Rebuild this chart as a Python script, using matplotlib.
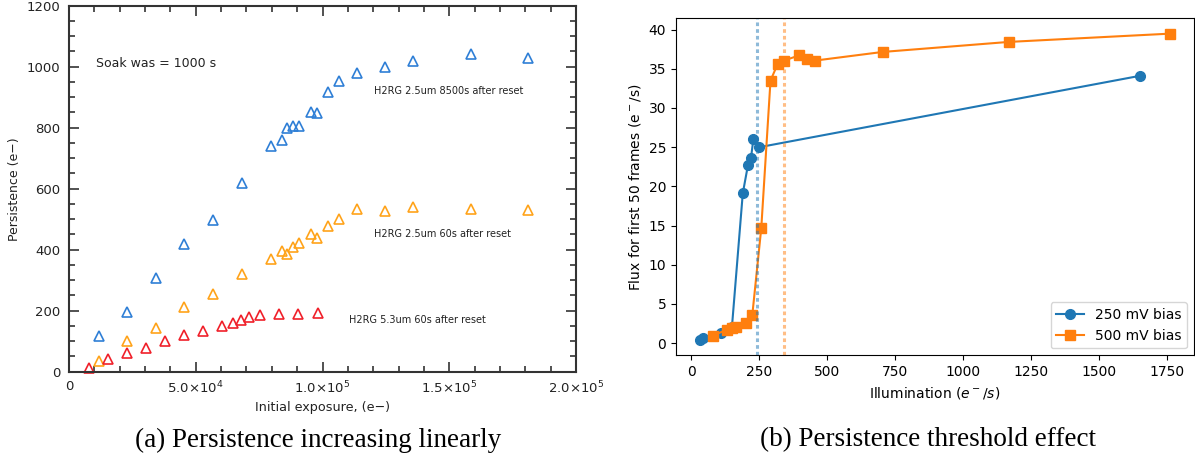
import matplotlib
matplotlib.use("Agg")
import matplotlib.pyplot as plt
from matplotlib.ticker import MultipleLocator, FixedLocator

# ---------------- (a) persistence vs initial exposure ----------------
exposure = [11700, 22900, 34200, 45500, 56900, 68200, 79600, 84000, 86100, 88500,
            90800, 95300, 97700, 102300, 106600, 113500, 124800, 135800, 158500, 181100]
persist_8500s = [118, 197, 306, 418, 497, 619, 740, 760, 799, 807,
                 807, 851, 847, 918, 952, 979, 1000, 1020, 1040, 1028]
persist_60s = [36, 102, 142, 211, 255, 319, 371, 397, 386, 408,
               423, 450, 437, 477, 502, 532, 528, 539, 532, 531]

exposure_53 = [7800, 15300, 22800, 30300, 37800, 45300, 52800, 60300, 64800,
               67700, 70900, 75400, 82800, 90500, 98100]
persist_53 = [11, 42, 60, 79, 102, 120, 134, 149, 161, 171, 178, 185, 190, 188, 191]

xticks_a = [0, 5e4, 1e5, 1.5e5, 2e5]
xtick_labels_a = ["0", r"5.0$\times$10$^4$", r"1.0$\times$10$^5$",
                  r"1.5$\times$10$^5$", r"2.0$\times$10$^5$"]
yticks_a = [0, 200, 400, 600, 800, 1000, 1200]

# ---------------- (b) persistence threshold effect ----------------
illum_250 = [31, 45, 110, 150, 190, 209, 220, 229, 251, 1650]
flux_250 = [0.40, 0.62, 1.3, 2.0, 19.1, 22.7, 23.6, 26.0, 25.0, 34.1]

illum_500 = [79, 132, 150, 166, 201, 225, 258, 292, 319, 341, 397, 425, 456,
             704, 1168, 1763]
flux_500 = [0.97, 1.7, 1.9, 2.04, 2.63, 3.57, 14.67, 33.5, 35.67, 36.05,
            36.7, 36.2, 36.05, 37.15, 38.43, 39.49]

threshold_250 = 243
threshold_500 = 343

fig = plt.figure(figsize=(11.95, 4.65), dpi=100)

# ---- left panel ----
axa = fig.add_axes([69 / 1195, 1 - 371.7 / 465, (576 - 69) / 1195, (371.7 - 5.7) / 465])
c_blue = "#2f7fd6"
c_orange = "#ffa31a"
c_red = "#f0202a"
tri = dict(marker="^", linestyle="none", markersize=7, markerfacecolor="none",
           markeredgewidth=1.2, clip_on=False)
axa.plot(exposure, persist_8500s, markeredgecolor=c_blue, **tri)
axa.plot(exposure, persist_60s, markeredgecolor=c_orange, **tri)
axa.plot(exposure_53, persist_53, markeredgecolor=c_red, **tri)

axa.set_xlim(0, 2e5)
axa.set_ylim(0, 1200)
axa.xaxis.set_major_locator(FixedLocator(xticks_a))
axa.set_xticklabels(xtick_labels_a)
axa.xaxis.set_minor_locator(MultipleLocator(1e4))
axa.set_yticks(yticks_a)
axa.yaxis.set_minor_locator(MultipleLocator(50))
axa.tick_params(which="both", direction="in", top=True, right=True,
                color="#333333", width=1.2, labelsize=9.5, labelcolor="#222222", pad=6)
axa.tick_params(which="major", length=7)
axa.tick_params(which="minor", length=4)
for s in axa.spines.values():
    s.set_color("#333333")
    s.set_linewidth(1.5)

ann = dict(fontsize=7, color="#222222", va="center")
axa.text(10650, 1012, "Soak was = 1000 s", fontsize=9, color="#222222", va="center")
axa.text(120300, 921, "H2RG 2.5um 8500s after reset", **ann)
axa.text(120400, 450, "H2RG 2.5um 60s after reset", **ann)
axa.text(110500, 170, "H2RG 5.3um 60s after reset", **ann)
axa.set_xlabel("Initial exposure, (e\u2212)", fontsize=9.2, color="#222222", labelpad=3)
axa.set_ylabel("Persistence (e\u2212)", fontsize=9, color="#222222", labelpad=4)

# ---- right panel ----
axb = fig.add_axes([676 / 1195, 1 - 355.3 / 465, (1194 - 676) / 1195, (355.3 - 18.3) / 465])
axb.plot(illum_250, flux_250, "-o", color="tab:blue", markersize=7, label="250 mV bias")
axb.plot(illum_500, flux_500, "-s", color="tab:orange", markersize=7, label="500 mV bias")
axb.axvline(threshold_250, color="tab:blue", alpha=0.5, lw=2.2, linestyle=(0, (1.2, 1.0)))
axb.axvline(threshold_500, color="tab:orange", alpha=0.5, lw=2.2, linestyle=(0, (1.2, 1.0)))
axb.set_xticks([0, 250, 500, 750, 1000, 1250, 1500, 1750])
axb.set_yticks([0, 5, 10, 15, 20, 25, 30, 35, 40])
axb.tick_params(labelsize=10)
axb.set_xlabel(r"Illumination ($e^-/s$)", fontsize=10)
axb.set_ylabel(r"Flux for first 50 frames (e$^-$/s)", fontsize=10)
axb.legend(loc="lower right", fontsize=10)

# ---- captions ----
cap = dict(fontsize=19.5, family="Liberation Serif", ha="center", va="center")
fig.text(318 / 1195, 1 - 440 / 465, "(a) Persistence increasing linearly", **cap)
fig.text(928 / 1195, 1 - 440 / 465, "(b) Persistence threshold effect", **cap)

fig.savefig("out.png", dpi=100)
